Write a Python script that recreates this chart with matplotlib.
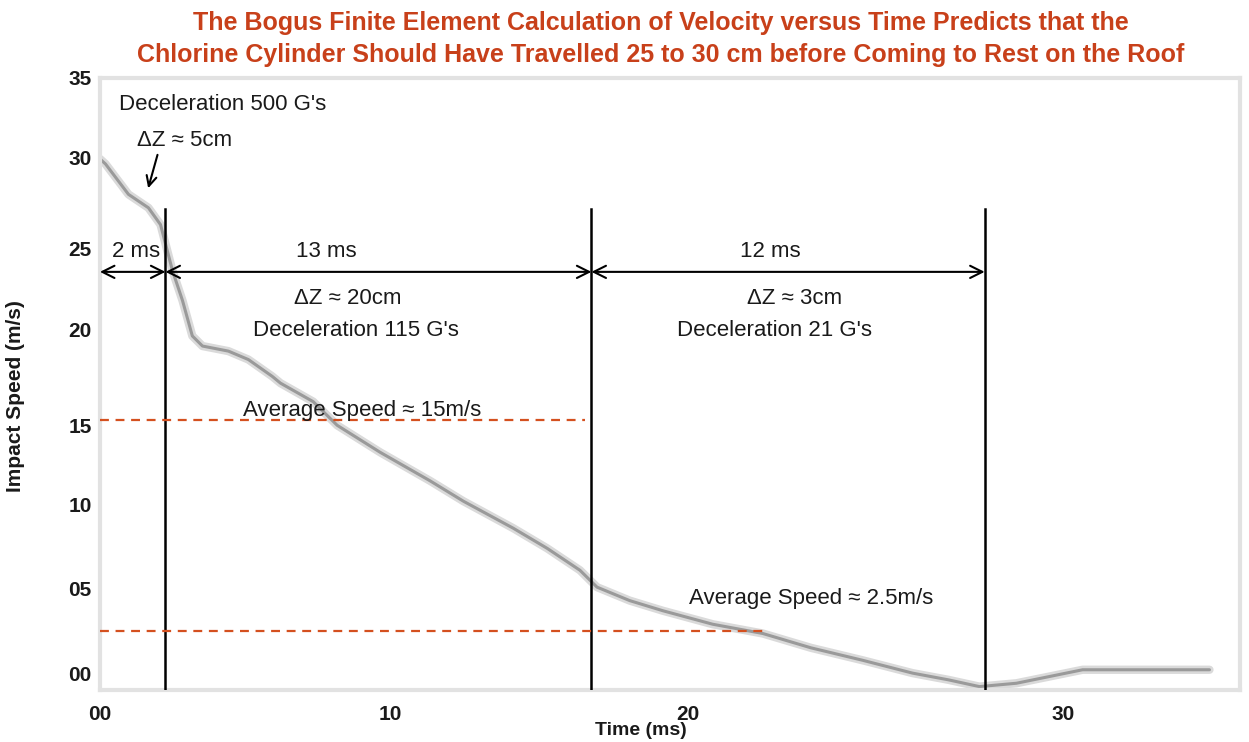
import numpy as np
import matplotlib
matplotlib.use("Agg")
import matplotlib.pyplot as plt

time_ms = [0.0, 0.17, 0.87, 1.48, 1.85, 2.21, 2.52, 2.82, 3.13, 3.92, 4.53, 5.26,
           5.51, 6.51, 7.24, 8.55, 10.08, 11.09, 12.61, 13.65, 14.65, 15.17, 16.17,
           17.18, 18.70, 20.23, 21.70, 23.28, 24.80, 25.90, 26.84, 27.97, 29.99, 33.86]
speed = [30.5, 30.2, 28.4, 27.6, 26.6, 23.9, 22.1, 20.0, 19.4, 19.1, 18.6, 17.6,
         17.2, 16.1, 14.7, 13.1, 11.4, 10.2, 8.6, 7.4, 6.1, 5.1, 4.3,
         3.7, 2.9, 2.35, 1.5, 0.76, 0.0, -0.4, -0.8, -0.6, 0.2, 0.2]

phase_bounds = [0, 2, 15, 27]
phase_labels = ["2 ms", "13 ms", "12 ms"]
avg_speeds = [15, 2.5]
avg_ends = [14.8, 20.35]
avg_labels = ["Average Speed \u2248 15m/s", "Average Speed \u2248 2.5m/s"]

xtick_pos = [0, 8.86, 17.93, 29.38]
xtick_lab = ["00", "10", "20", "30"]
ytick_pos = [0, 5, 10, 14.7, 20.4, 25.2, 30.6, 35.3]
ytick_lab = ["00", "05", "10", "15", "20", "25", "30", "35"]

title = ("The Bogus Finite Element Calculation of Velocity versus Time Predicts that the\n"
         "Chlorine Cylinder Should Have Travelled 25 to 30 cm before Coming to Rest on the Roof")

plt.rcParams['font.family'] = ['Liberation Sans', 'DejaVu Sans']
txt = '#1a1a1a'
red = '#d4501f'
fs = 16

fig = plt.figure(figsize=(12.49, 7.42), dpi=100)
ax = fig.add_axes([0.080, 0.0701, 0.913, 0.8248])
ax.set_xlim(0, 34.8)
ax.set_ylim(-1.0, 35.0)

# the curve, blurred grey like the scan
ax.plot(time_ms, speed, color='#dadada', lw=6, solid_capstyle='round', zorder=1)
ax.plot(time_ms, speed, color='#9a9a9a', lw=2.2, solid_capstyle='round', zorder=2)

# phase boundaries
for t in phase_bounds[1:]:
    ax.plot([t, t], [-1.0, 27.5], color='black', lw=1.8, zorder=3)

# double arrows for phase durations
for i in range(3):
    a, b = phase_bounds[i], phase_bounds[i + 1]
    ax.annotate('', xy=(b, 23.8), xytext=(a, 23.8),
                arrowprops=dict(arrowstyle='<->', color='black', lw=1.5,
                                mutation_scale=22, shrinkA=0, shrinkB=0), zorder=4)
ax.text(1.1, 24.4, phase_labels[0], ha='center', va='bottom', fontsize=fs, color=txt)
ax.text(6.9, 24.4, phase_labels[1], ha='center', va='bottom', fontsize=fs, color=txt)
ax.text(20.45, 24.4, phase_labels[2], ha='center', va='bottom', fontsize=fs, color=txt)

# average speed lines
for v, e, lab, tx, ty in zip(avg_speeds, avg_ends, avg_labels, [8.0, 21.7], [15.6, 4.4]):
    ax.plot([0, e], [v, v], color=red, lw=1.6, ls=(0, (4, 3)), zorder=3)
    ax.text(tx, ty, lab, ha='center', va='center', fontsize=fs, color=txt)

# annotations
ax.text(0.57, 33.7, "Deceleration 500 G's", ha='left', va='center', fontsize=fs, color=txt)
ax.text(1.12, 31.6, "\u0394Z \u2248 5cm", ha='left', va='center', fontsize=fs, color=txt)
ax.annotate('', xy=(1.45, 28.6), xytext=(1.78, 30.9),
            arrowprops=dict(arrowstyle='->', color='black', lw=1.5, mutation_scale=18))
ax.text(7.55, 22.2, "\u0394Z \u2248 20cm", ha='center', va='center', fontsize=fs, color=txt)
ax.text(7.8, 20.3, "Deceleration 115 G's", ha='center', va='center', fontsize=fs, color=txt)
ax.text(21.2, 22.2, "\u0394Z \u2248 3cm", ha='center', va='center', fontsize=fs, color=txt)
ax.text(20.6, 20.3, "Deceleration 21 G's", ha='center', va='center', fontsize=fs, color=txt)

# axes styling
for s in ax.spines.values():
    s.set_color('#e2e2e2')
    s.set_linewidth(3)
ax.set_xticks(xtick_pos)
ax.set_xticklabels(xtick_lab, fontsize=15, fontweight='bold', color=txt)
ax.set_yticks(ytick_pos)
ax.set_yticklabels(ytick_lab, fontsize=15, fontweight='bold', color=txt)
ax.tick_params(axis='x', length=0, pad=11)
ax.tick_params(axis='y', length=0, pad=6)

ax.set_xlabel("Time (ms)", fontsize=14, fontweight='bold', color=txt)
ax.xaxis.set_label_coords(0.474, -0.052)
ax.set_ylabel("Impact Speed (m/s)", fontsize=15, fontweight='bold', color=txt)
ax.yaxis.set_label_coords(-0.066, 0.48)

fig.text(0.529, 0.985, title, ha='center', va='top', fontsize=18, fontweight='bold',
         color='#c8401a', linespacing=1.4)

fig.savefig("out.png", dpi=100)
